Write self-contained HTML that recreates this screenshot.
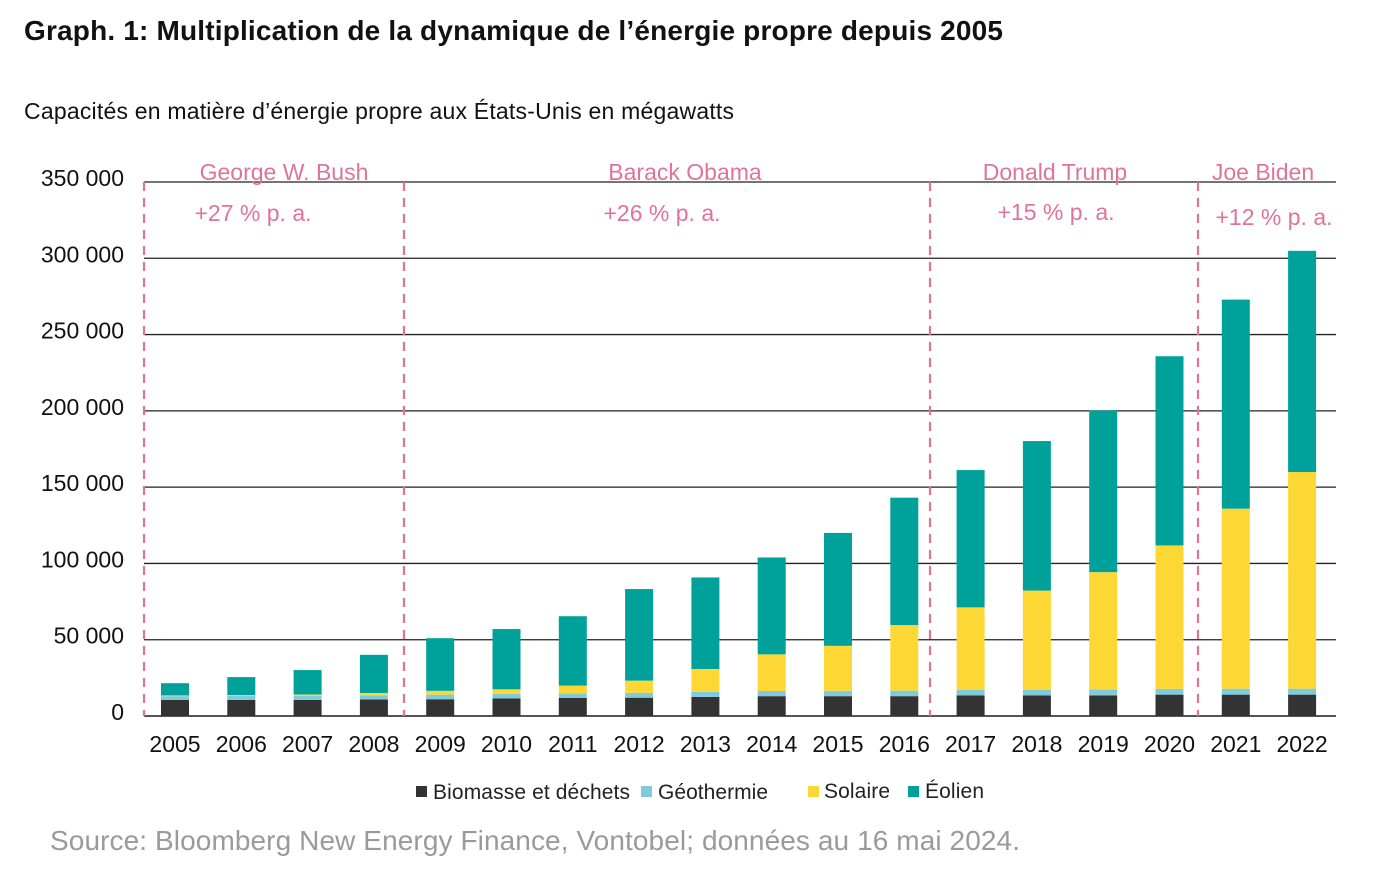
<!DOCTYPE html>
<html><head><meta charset="utf-8"><style>
body{margin:0;background:#fff;font-family:"Liberation Sans",Arial,sans-serif}
svg text{font-family:"Liberation Sans",Arial,sans-serif}
</style></head><body>
<svg width="1384" height="878" xmlns="http://www.w3.org/2000/svg">
<text x="24" y="40" font-size="28" font-weight="bold" fill="#111" textLength="979">Graph. 1: Multiplication de la dynamique de l’énergie propre depuis 2005</text>
<text x="24" y="119" font-size="23" fill="#111" textLength="710">Capacités en matière d’énergie propre aux États-Unis en mégawatts</text>
<g id="grid"></g><g id="bars"></g><g id="pres"></g>
<g font-size="21" fill="#222">
<rect x="416" y="786" width="11" height="11" fill="#333"/><text x="433" y="799" textLength="197">Biomasse et déchets</text>
<rect x="641" y="786" width="11" height="11" fill="#7fcbdc"/><text x="658" y="799" textLength="110">Géothermie</text>
<rect x="808" y="786" width="11" height="11" fill="#fdd835"/><text x="824" y="798" textLength="66">Solaire</text>
<rect x="908" y="786" width="11" height="11" fill="#00a19a"/><text x="925" y="798" textLength="59">Éolien</text>
</g>
<text x="50" y="850" font-size="28" fill="#9a9a9a" textLength="970">Source: Bloomberg New Energy Finance, Vontobel; données au 16 mai 2024.</text>
</svg>
<script>
const years=[2005,2006,2007,2008,2009,2010,2011,2012,2013,2014,2015,2016,2017,2018,2019,2020,2021,2022];
const biomass=[10.5,10.5,10.5,10.8,11,11.5,11.8,12,12.5,13,13,13,13.5,13.5,13.5,14,14,14];
const geo=[2.5,2.6,2.7,2.8,3,3,3.1,3.2,3.3,3.4,3.5,3.6,3.7,3.7,3.8,3.8,3.9,3.9];
const solar=[0.5,0.6,0.9,1.5,2.5,3,5,8,15,24,29.5,43,54,65,77,94,118,142];
const wind=[8,11.8,16,25,34.5,39.5,45.5,60,60,63.5,74,83.5,90,98,106,124,137,145];
const yTicks=[0,50000,100000,150000,200000,250000,300000,350000];
const yTickLabels=["0","50 000","100 000","150 000","200 000","250 000","300 000","350 000"];
const NS="http://www.w3.org/2000/svg";
const y=v=>716-v/350000*534;
const x=i=>175+i*66.3;
function mk(t,a,p){const e=document.createElementNS(NS,t);for(const k in a)e.setAttribute(k,a[k]);p.appendChild(e);return e;}
const g=document.getElementById('grid');
yTicks.forEach((t,i)=>{
 const l=mk('line',{x1:144,x2:1336,y1:y(t),y2:y(t),stroke:i==0?'#555':'#222','stroke-width':i==0?2:1.3},g);
 
 
 const tx=mk('text',{x:124,y:y(t)+4,'text-anchor':'end','font-size':23,fill:'#111'},g);tx.textContent=yTickLabels[i];
 
 
});
const b=document.getElementById('bars');
const series=[[biomass,'#333333'],[geo,'#7fcbdc'],[solar,'#fdd835'],[wind,'#00a19a']];
const names=['biomass','geothermal','solar','wind'];
years.forEach((yr,i)=>{
 let base=0;
 series.forEach(([arr,c],s)=>{
  const v=arr[i]*1000;
  const r=mk('rect',{x:x(i)-14,width:28,y:y(base+v),height:y(base)-y(base+v),fill:c},b);
  
  
  base+=v;
 });
 const tx=mk('text',{x:x(i),y:752,'text-anchor':'middle','font-size':23,fill:'#111'},b);tx.textContent=yr;
 
 
});
const p=document.getElementById('pres');
[144,404,930,1198].forEach(xx=>{
 const l=mk('line',{x1:xx,x2:xx,y1:182,y2:716,stroke:'#e0739a','stroke-width':2.2,'stroke-dasharray':'9,7'},p);
 
 
});
[["George W. Bush",284,180],["+27 % p. a.",253,221],["Barack Obama",685,180],["+26 % p. a.",662,221],["Donald Trump",1055,180],["+15 % p. a.",1056,220],["Joe Biden",1263,180],["+12 % p. a.",1274,225]].forEach(([t,xx,yy])=>{
 const tx=mk('text',{x:xx,y:yy,'text-anchor':'middle','font-size':23,fill:'#e0739a'},p);tx.textContent=t;
 
 
});
</script>
</body></html>
